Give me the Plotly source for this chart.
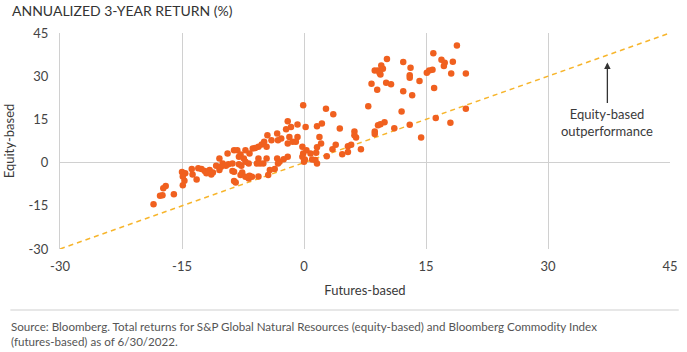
import plotly.graph_objects as go

# Annualized 3-year returns (%): futures-based (x) vs equity-based (y)
futures_based = [
    -17.0, -17.3, -17.7, -17.4, -16.0, -18.5,
    -15.0, -14.6, -14.9, -14.7, -14.9,
    -0.1, -2.0, -2.2, -1.6, 0.2, -4.5, -3.3, -0.8, -1.8, -0.8, -3.2, -4.0, -2.8,
    -5.2, -4.9, -5.6, -4.6, -1.4, -2.0, -1.0, -0.2, -8.6, -8.2, -7.2, -6.7, -6.3,
    -6.0, -9.4, -7.8, -8.0, -7.4, -5.6, -4.6, -3.3, -2.5, -2.0, -0.1, -10.4, -10.0,
    -9.3, -8.8, -8.0, -7.7, -7.2, -6.8, -5.8, -5.4, -5.0, -3.0, -3.2, 0.0, -0.2,
    -13.8, -13.0, -12.6, -12.2, -12.0, -11.6, -11.4, -11.2, -10.8, -10.4, -10.2,
    -9.6, -8.8, -8.6, -7.8, -7.6, -7.2, -6.8, -6.7, -6.4, -5.6, -4.4, -4.2, -3.6,
    -13.7, -13.2, -8.6, -8.4,
    10.2, 12.2, 8.7, 9.5, 9.7, 9.3, 9.4, 9.1, 13.1, 13.0, 13.0, 8.3, 10.1, 10.7,
    9.0, 12.2, 7.9, 12.0, 2.7, 3.6, 1.6, 2.2, 4.4, 6.2, 6.2, 6.4, 8.7, 8.7, 9.1,
    9.4, 9.9, 11.1, 13.0, 1.9, 2.1, 1.6, 0.3, 3.9, 3.5, 5.4, 5.8, 5.4, 4.7, 7.0,
    2.8, 0.8, 1.5, 0.1, 1.0, 1.6, 1.4,
    18.8, 15.9, 16.9, 17.3, 17.2, 18.3, 14.2, 15.1, 15.4, 15.8, 18.1, 19.9, 13.3,
    16.0, 19.9, 16.2, 18.0, 14.4,
]
equity_based = [
    -8.1, -8.9, -11.5, -11.3, -11.0, -14.5,
    -3.3, -3.7, -4.8, -6.3, -7.9,
    19.9, 14.4, 11.6, 12.4, 12.4, 9.5, 10.1, 13.2, 8.9, 8.9, 7.8, 7.8, 8.4,
    6.3, 7.2, 5.5, 5.5, 7.2, 6.6, 7.2, 5.5, 4.3, 4.3, 4.3, 3.2, 4.9,
    5.1, 3.2, 2.8, 2.0, 1.4, 1.4, 1.4, 1.4, 1.2, 2.0, 3.2, 1.4, -0.3,
    -0.6, -0.3, -0.6, -1.1, 0.3, -0.3, -0.3, -0.3, -0.3, 0.3, -0.3, 0.3, 2.0,
    -2.2, -2.0, -2.2, -2.9, -3.7, -2.6, -4.1, -3.4, -1.1, -2.6, -1.4,
    -1.1, -2.9, -3.2, -4.3, -3.4, -4.9, -5.5, -4.6, -4.9, -4.8, -4.3, -2.6, -2.2,
    -4.1, -5.9, -6.4, -6.9,
    36.0, 34.9, 32.0, 33.7, 32.6, 31.1, 30.6, 32.0, 32.9, 30.3, 29.5, 27.4, 27.7, 27.2,
    25.3, 24.8, 19.6, 17.7, 18.7, 16.8, 12.6, 13.6, 11.8, 10.8, 9.5, 8.7, 10.8, 9.9, 13.0,
    13.3, 14.0, 11.9, 13.1, 8.9, 6.6, 5.3, 4.3, 6.2, 4.6, 5.7, 6.2, 3.7, 2.9, 4.6,
    2.2, 3.2, 3.4, 1.1, 1.1, -0.3, 0.9,
    40.7, 38.0, 35.7, 34.7, 33.5, 35.0, 28.3, 31.2, 32.0, 32.2, 30.9, 30.9, 23.4,
    25.9, 18.7, 15.5, 13.8, 8.7,
]

parity_line = [-30, 45]
tick_values = [-30, -15, 0, 15, 30, 45]
tick_labels = ["-30", "-15", "0", "15", "30", "45"]

FONT = "Lato, 'Open Sans', sans-serif"
TEXT = "#3a3a3a"
GRID = "#d0d0d0"

fig = go.Figure()
fig.add_trace(go.Scatter(
    x=parity_line, y=parity_line, mode="lines",
    line=dict(color="#F7B52C", width=1.5, dash="5px,4px"),
    hoverinfo="skip", showlegend=False,
))
fig.add_trace(go.Scatter(
    x=futures_based, y=equity_based, mode="markers",
    marker=dict(color="#F0601F", size=6.5, line=dict(width=0)),
    showlegend=False,
))

fig.update_layout(
    width=687, height=352,
    margin=dict(l=51, r=9, t=33, b=103),
    paper_bgcolor="white", plot_bgcolor="white",
    font=dict(family=FONT, color=TEXT, size=13),
    xaxis=dict(
        range=[-30, 45], tickvals=tick_values, ticktext=tick_labels,
        showgrid=True, gridcolor=GRID, gridwidth=1, zeroline=False,
        showline=False, ticks="", ticklabelstandoff=8,
        tickfont=dict(size=13, color="#444"),
        title=dict(text="Futures-based", font=dict(size=13, color=TEXT), standoff=12),
        fixedrange=True,
    ),
    yaxis=dict(
        range=[-30, 45], tickvals=tick_values, ticktext=tick_labels,
        showgrid=False, zeroline=True, zerolinecolor=GRID, zerolinewidth=1,
        showline=True, linecolor=GRID, linewidth=1, ticks="", ticklabelstandoff=8,
        tickfont=dict(size=13, color="#444"),
        title=dict(text="Equity-based", font=dict(size=13, color=TEXT), standoff=10),
        fixedrange=True,
    ),
    annotations=[
        dict(xref="paper", yref="paper", x=-51/627, y=1 + 23/216, xanchor="left", yanchor="middle",
             text="ANNUALIZED 3-YEAR RETURN (%)", showarrow=False,
             font=dict(size=14, color="#333")),
        dict(x=37.3, y=34.8, ax=0, ay=42, text="", showarrow=True,
             arrowhead=2, arrowsize=1, arrowwidth=1.3, arrowcolor="#333"),
        dict(x=37.3, y=13.8, text="Equity-based<br>outperformance", showarrow=False,
             xanchor="center", yanchor="middle", align="center",
             font=dict(size=13, color=TEXT)),
        dict(xref="paper", yref="paper", x=-51/627, y=-85/216, xanchor="left", yanchor="middle",
             align="left", showarrow=False, borderpad=0,
             text="Source: Bloomberg. Total returns for S&P Global Natural Resources (equity-based) and Bloomberg Commodity Index<br>(futures-based) as of 6/30/2022.",
             font=dict(size=11.6, color="#555")),
    ],
    shapes=[
        dict(type="line", xref="paper", yref="paper", x0=-51/627, x1=1 + 9/627,
             y0=-61/216, y1=-61/216, line=dict(color="#cfcfcf", width=1)),
    ],
)

fig.write_html("out.html")
